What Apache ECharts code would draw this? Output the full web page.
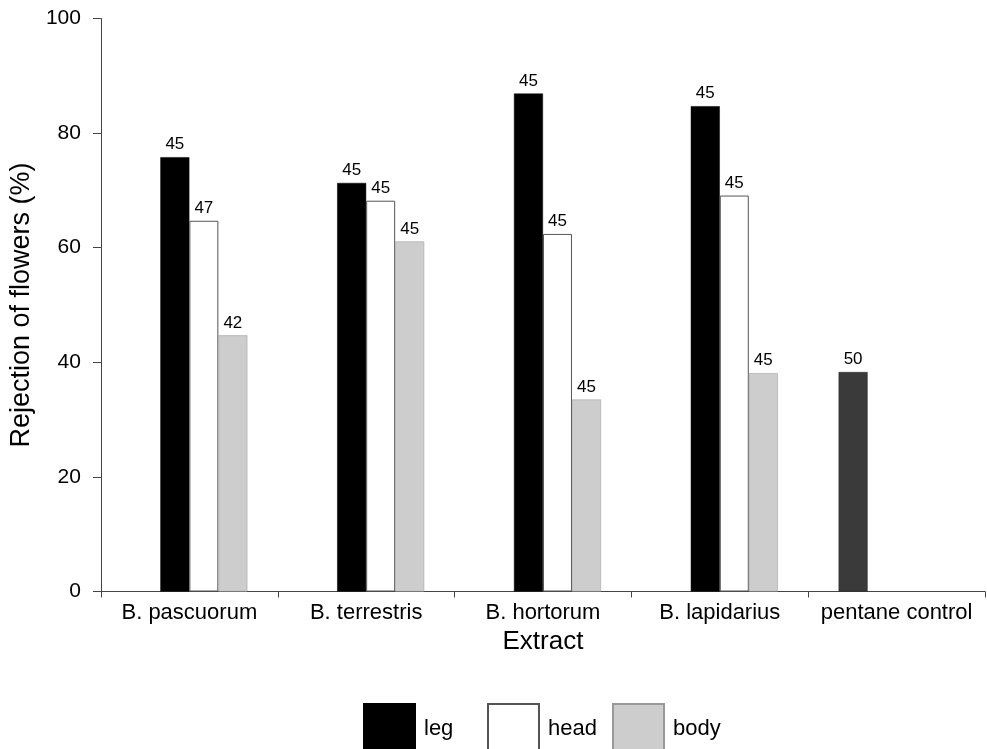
<!DOCTYPE html>
<html>
<head>
<meta charset="utf-8">
<script src="https://cdn.jsdelivr.net/npm/echarts@6/dist/echarts.min.js"></script>
<style>
html,body{margin:0;padding:0;background:#fff;}
#chart{width:987px;height:749px;}
</style>
</head>
<body>
<div id="chart"></div>
<script>
const categories = ['B. pascuorum', 'B. terrestris', 'B. hortorum', 'B. lapidarius', 'pentane control'];
const legValues = [75.8, 71.3, 86.9, 84.7, null];
const headValues = [64.7, 68.2, 62.4, 69.1, null];
const bodyValues = [44.7, 61.1, 33.5, 38.1, null];
const controlValues = [null, null, null, null, 38.3];
const legN = [45, 45, 45, 45, null];
const headN = [47, 45, 45, 45, null];
const bodyN = [42, 45, 45, 45, null];
const controlN = [null, null, null, null, 50];
const yTicks = [0, 20, 40, 60, 80, 100];

const FONT = '"Liberation Sans", Arial, sans-serif';
const chart = echarts.init(document.getElementById('chart'), null, {renderer: 'canvas'});

function labelFrom(arr) {
  return {
    show: true,
    position: 'top',
    distance: 4,
    fontFamily: FONT,
    fontSize: 17,
    color: '#000',
    formatter: function (p) { return arr[p.dataIndex] == null ? '' : String(arr[p.dataIndex]); }
  };
}

const legendCommon = {
  top: 703,
  padding: 0,
  itemWidth: 51,
  itemHeight: 50,
  icon: 'rect',
  selectedMode: false,
  textStyle: {fontFamily: FONT, fontSize: 22, color: '#000', padding: [0, 0, 0, 4]}
};

chart.setOption({
  animation: false,
  backgroundColor: '#fff',
  grid: {left: 98, right: 2, top: 18.5, bottom: 157.5, containLabel: false},
  legend: [
    Object.assign({}, legendCommon, {left: 363, data: ['leg']}),
    Object.assign({}, legendCommon, {left: 487, data: ['head']}),
    Object.assign({}, legendCommon, {left: 612, data: ['body']})
  ],
  xAxis: {
    type: 'category',
    data: categories,
    name: 'Extract',
    nameLocation: 'middle',
    nameGap: 36,
    nameTextStyle: {fontFamily: FONT, fontSize: 26, color: '#000'},
    axisLine: {lineStyle: {color: '#444', width: 1}},
    axisTick: {show: true, length: 6, lineStyle: {color: '#444'}},
    axisLabel: {interval: 0, fontFamily: FONT, fontSize: 22, color: '#000', margin: 10}
  },
  yAxis: {
    type: 'value',
    min: yTicks[0],
    max: yTicks[yTicks.length - 1],
    interval: 20,
    name: 'Rejection of flowers (%)',
    nameLocation: 'middle',
    nameGap: 47,
    nameRotate: 90,
    nameTextStyle: {fontFamily: FONT, fontSize: 27, color: '#000'},
    splitLine: {show: false},
    axisLine: {show: true, lineStyle: {color: '#444', width: 1}},
    axisTick: {show: true, length: 8, lineStyle: {color: '#444'}},
    axisLabel: {fontFamily: FONT, fontSize: 21, color: '#000', margin: 20}
  },
  series: [
    {
      name: 'pentane control', type: 'bar', data: controlValues, barWidth: 29, barGap: '0%',
      itemStyle: {color: '#3a3a3a', borderColor: '#222', borderWidth: 0.5},
      label: labelFrom(controlN)
    },
    {
      name: 'leg', type: 'bar', data: legValues, barWidth: 29, barGap: '0%',
      itemStyle: {color: '#000', borderColor: '#000', borderWidth: 0.5},
      label: labelFrom(legN)
    },
    {
      name: 'head', type: 'bar', data: headValues, barWidth: 29, barGap: '0%',
      itemStyle: {color: '#fff', borderColor: '#555', borderWidth: 1},
      label: labelFrom(headN)
    },
    {
      name: 'body', type: 'bar', data: bodyValues, barWidth: 29, barGap: '0%',
      itemStyle: {color: '#cdcdcd', borderColor: '#999', borderWidth: 0.5},
      label: labelFrom(bodyN)
    }
  ]
});
</script>
</body>
</html>
